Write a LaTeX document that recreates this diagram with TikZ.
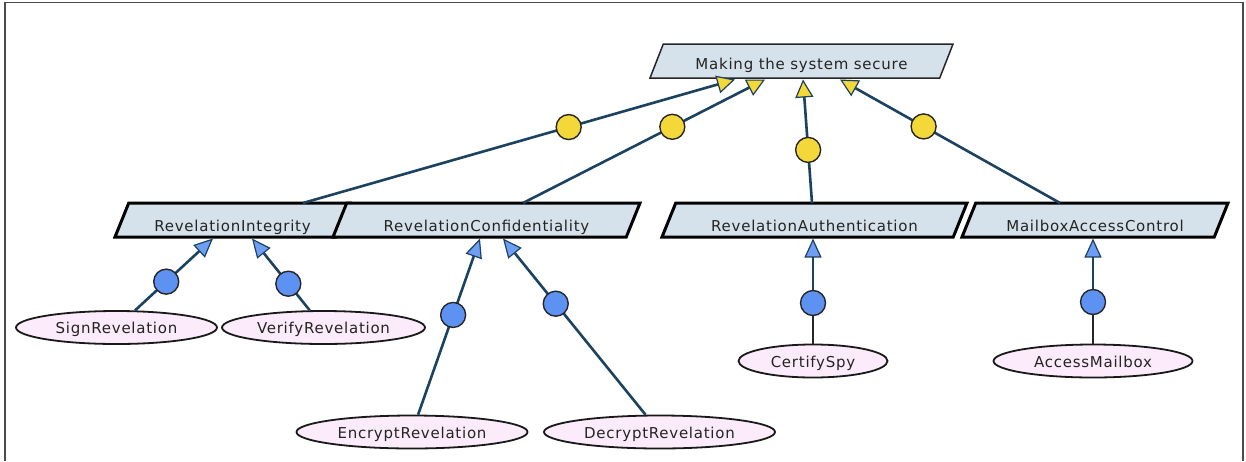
\documentclass[tikz,border=0pt]{standalone}
\usepackage{fontspec}
\newfontfamily\lblfont{DejaVu Sans}[LetterSpace=5]
\usetikzlibrary{shapes.geometric,arrows.meta,calc}
\definecolor{goalfill}{HTML}{D5E2EB}
\definecolor{taskfill}{HTML}{FCEBFA}
\definecolor{edgecol}{HTML}{1B4260}
\definecolor{dotyellow}{HTML}{F4D83A}
\definecolor{dotblue}{HTML}{5E92F2}
\definecolor{tipblue}{HTML}{6E9FF4}
\definecolor{framecol}{HTML}{4A4A4A}
\definecolor{textcol}{HTML}{242424}
\begin{document}
\begin{tikzpicture}[x=1pt,y=-1pt,
  lbl/.style={font=\lblfont\fontsize{15}{18}\selectfont, text=textcol},
  goal/.style={lbl, trapezium, trapezium left angle=58, trapezium right angle=122,
    trapezium stretches body, minimum height=34pt, inner sep=0pt,
    fill=goalfill, draw=black, line width=3pt, text height=22pt, text depth=0pt},
  rootgoal/.style={goal, line width=1.5pt, draw=black!85,
    trapezium left angle=52, trapezium right angle=128, text height=17pt},
  task/.style={lbl, ellipse, minimum height=33pt, inner sep=0pt, fill=taskfill,
    draw=black!90, line width=1.8pt, text height=12pt, text depth=0pt},
  ydot/.style={circle, minimum size=25pt, inner sep=0pt, fill=dotyellow,
    draw=black!85, line width=1.4pt},
  bdot/.style={circle, minimum size=25pt, inner sep=0pt, fill=dotblue,
    draw=black!85, line width=1.4pt},
  uplink/.style={draw=edgecol, line width=2.6pt,
    -{Triangle[length=18pt,width=18pt,fill=dotyellow,line width=1.2pt]}},
  sublink/.style={draw=edgecol, line width=2.6pt,
    -{Triangle[length=19pt,width=17pt,fill=tipblue,line width=1.2pt]}},
  stem/.style={draw=black!85, line width=1.7pt},
]
% canvas and frame
\fill[white] (0,0) rectangle (1246,461);
\useasboundingbox (0,0) rectangle (1246,461);
\draw[framecol, line width=1.6pt] (5,461) -- (5,2.5) -- (1243,2.5) -- (1243,461);

% goals
\node[rootgoal, minimum width=303pt] (top) at (801.5,61) {Making the system secure};
\node[goal, minimum width=235pt] (ri)  at (232.5,220) {RevelationIntegrity};
\node[goal, minimum width=307pt] (rc)  at (486.5,220) {RevelationConfidentiality};
\node[goal, minimum width=305pt] (ra)  at (814.5,220) {RevelationAuthentication};
\node[goal, minimum width=266pt] (mac) at (1095,220) {MailboxAccessControl};

% tasks
\node[task, minimum width=201pt] (sign)    at (116.5,327.5) {SignRevelation};
\node[task, minimum width=203pt] (verify)  at (323.5,327.5) {VerifyRevelation};
\node[task, minimum width=231pt] (encrypt) at (412,432)     {EncryptRevelation};
\node[task, minimum width=231pt] (decrypt) at (659.5,432)   {DecryptRevelation};
\node[task, minimum width=149pt] (certify) at (813,361)     {CertifySpy};
\node[task, minimum width=199pt] (access)  at (1093,361)    {AccessMailbox};

% sub-goals contributing to the main goal
\draw[uplink] ($(ri.center)+(70.5,-17)$) -- node[ydot,pos=0.615] (y1) {} ($(top.center)+(-66.5,18.5)$);
\draw[uplink] ($(rc.center)+(36.5,-17)$) -- node[ydot,pos=0.617] (y2) {} ($(top.center)+(-36.5,18.5)$);
\draw[uplink] ($(ra.center)+(-2.5,-17)$) -- node[ydot,pos=0.43] (y3) {} ($(top.center)+(1.5,18.5)$);
\draw[uplink] ($(mac.center)+(-35,-17)$) -- node[ydot,pos=0.62] (y4) {} ($(top.center)+(38.5,18.5)$);

% tasks refining the sub-goals
\draw[sublink] (sign)    -- node[bdot,pos=0.40]  (b1) {} ($(ri.center)+(-19.5,18.5)$);
\draw[sublink] (verify)  -- node[bdot,pos=0.37]  (b2) {} ($(ri.center)+(19.5,18.5)$);
\draw[sublink] (encrypt) -- node[bdot,pos=0.566] (b3) {} ($(rc.center)+(-6.5,18.5)$);
\draw[sublink] (decrypt) -- node[bdot,pos=0.63]  (b4) {} ($(rc.center)+(16.5,18.5)$);

\node[bdot] (b5) at (813,303) {};
\draw[stem] (certify) -- (b5);
\draw[sublink] (b5) -- ($(ra.center)+(-1.5,18.5)$);

\node[bdot] (b6) at (1093,302) {};
\draw[stem] (access) -- (b6);
\draw[sublink] (b6) -- ($(mac.center)+(-2,18.5)$);
\end{tikzpicture}
\end{document}
